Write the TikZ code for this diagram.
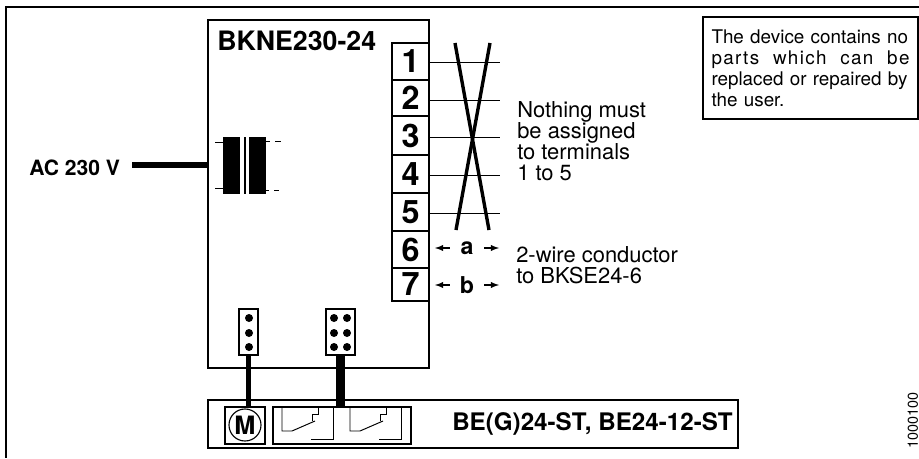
\documentclass[tikz,border=0pt]{standalone}
\usepackage{fontspec}
\setmainfont{TeX Gyre Heros}
\usetikzlibrary{arrows}
\tikzset{
	device/.style={draw, line width=1.4pt, inner sep=0pt},
	terminal/.style={draw, line width=1pt, inner sep=0pt, minimum width=0.925cm, font=\fontsize{23}{23}\selectfont\bfseries},
	pinblock/.style={draw, line width=1.2pt, inner sep=0pt, minimum height=1.15cm},
	unit/.style={draw, line width=0.8pt, inner sep=0pt, minimum height=0.925cm},
	wire/.style={line width=0.7pt},
	cross/.style={line width=2.4pt},
	cable/.style={line width=3.8pt},
	coil/.style={fill=black, line width=0pt, inner sep=0pt, minimum height=1.425cm},
	dimarrow/.style={-latex, line width=1pt},
	dimlabel/.style={inner sep=0pt, minimum width=0.85cm, font=\fontsize{16.5}{16.5}\selectfont\bfseries},
	label/.style={inner sep=0pt, align=left, anchor=north west, font=\fontsize{15.6}{15}\selectfont},
	title/.style={inner sep=0pt, anchor=west, font=\fontsize{17.2}{17.2}\selectfont\bfseries}
}
\begin{document}
\begin{tikzpicture}
	\useasboundingbox (0,0) rectangle (22.975,11.45);

	% Рамка
	\draw[line width=1.3pt] (22.975,11.275) -- (0.15,11.275) -- (0.15,0);

	% Устройство
	\node[device, minimum width=5.525cm, minimum height=8.7cm] (dev) at (7.9625,6.6) {};
	\node[title, font=\fontsize{19}{19}\selectfont\bfseries] (devname) at (5.425,10.425) {BKNE230-24};

	% Клеммы
	\node[terminal, minimum height=0.925cm] (t1) at (10.2625,9.9125) {1};
	\node[terminal, minimum height=0.9cm] (t2) at (10.2625,9) {2};
	\node[terminal, minimum height=0.975cm] (t3) at (10.2625,8.0625) {3};
	\node[terminal, minimum height=0.95cm] (t4) at (10.2625,7.1) {4};
	\node[terminal, minimum height=0.95cm] (t5) at (10.2625,6.15) {5};
	\node[terminal, minimum height=0.925cm] (t6) at (10.2625,5.2125) {6};
	\node[terminal, minimum height=0.825cm] (t7) at (10.2625,4.3375) {7};

	\coordinate (w1) at (12.5,9.9);
	\coordinate (w2) at (12.5,8.95);
	\coordinate (w3) at (12.5,8.025);
	\coordinate (w4) at (12.5,7.075);
	\coordinate (w5) at (12.5,6.125);
	\draw[wire] (t1.east |- w1) -- (w1);
	\draw[wire] (t2.east |- w2) -- (w2);
	\draw[wire] (t3.east |- w3) -- (w3);
	\draw[wire] (t4.east |- w4) -- (w4);
	\draw[wire] (t5.east |- w5) -- (w5);

	% Крест
	\coordinate (xa) at (11.375,10.375);
	\coordinate (xb) at (12.225,5.7);
	\coordinate (xc) at (12.25,10.375);
	\coordinate (xd) at (11.4,5.7);
	\draw[cross] (xa) -- (xb);
	\draw[cross] (xc) -- (xd);

	% Размеры a, b
	\node[dimlabel] (a) at (11.675,5.25) {a};
	\node[dimlabel] (b) at (11.675,4.325) {b};
	\coordinate (al) at (10.875,5.25);
	\coordinate (ar) at (12.475,5.25);
	\coordinate (bl) at (10.875,4.325);
	\coordinate (br) at (12.475,4.325);
	\draw[dimarrow] (a) -- (al);
	\draw[dimarrow] (a) -- (ar);
	\draw[dimarrow] (b) -- (bl);
	\draw[dimarrow] (b) -- (br);

	% Подписи
	\node[label] (nothing) at (12.925,8.925) {Nothing must\\be assigned\\to terminals\\1 to 5};
	\node[label] (conductor) at (12.9,5.3) {2-wire conductor\\to BKSE24-6};
	\node[draw, line width=1pt, text width=4.95cm, inner xsep=0.2125cm, inner ysep=0pt, minimum height=2.55cm, align=left, font=\fontsize{13.4}{15}\selectfont] (note) at (20.2625,9.75)
		{The device contains no\\\makebox[4.95cm][l]{\addfontfeature{LetterSpace=7}parts\hfill which\hfill can\hfill be}\\replaced or repaired by\\the user.};

	% Трансформатор
	\node[title, font=\fontsize{15}{15}\selectfont\bfseries] (ac) at (0.725,7.25) {AC 230 V};
	\coordinate (acend) at (3.3,7.325);
	\draw[cable] (acend) -- (acend -| dev.west);
	\node[coil, minimum width=0.425cm] (core1) at (5.7875,7.3125) {};
	\node[coil, minimum width=0.0625cm] (core2) at (6.1187,7.3125) {};
	\node[coil, minimum width=0.425cm] (core3) at (6.4375,7.3125) {};
	\draw[wire] (5.375,7.9) -- (5.575,7.9);
	\draw[wire] (5.375,6.75) -- (5.575,6.75);
	\draw[wire] (6.65,7.925) -- (6.75,7.925);
	\draw[wire] (6.875,7.925) -- (7.025,7.925);
	\draw[wire] (6.65,6.7) -- (6.725,6.7);
	\draw[wire] (6.85,6.7) -- (6.975,6.7);

	% Разъёмы
	\node[pinblock, minimum width=0.475cm] (pa) at (6.2125,3.15) {};
	\fill (6.225,3.5) circle (0.1);
	\fill (6.225,3.125) circle (0.1);
	\fill (6.225,2.775) circle (0.1);
	\node[pinblock, minimum width=0.725cm] (pb) at (8.5125,3.15) {};
	\fill (8.35,3.5) circle (0.1);
	\fill (8.675,3.5) circle (0.1);
	\fill (8.35,3.125) circle (0.1);
	\fill (8.675,3.125) circle (0.1);
	\fill (8.35,2.775) circle (0.1);
	\fill (8.675,2.775) circle (0.1);

	% Привод
	\node[device, line width=1.8pt, minimum width=13.25cm, minimum height=1.2cm] (be) at (11.825,0.85) {};
	\node[title] (bename) at (11.3,0.85) {BE(G)24-ST, BE24-12-ST};
	\node[unit, minimum width=1cm] (mbox) at (6.125,0.8125) {};
	\node[draw, circle, line width=0.8pt, inner sep=0pt, minimum size=0.8cm, font=\fontsize{18}{18}\selectfont\bfseries] (mot) at (6.125,0.825) {M};
	\node[unit, minimum width=3.45cm] (swbox) at (8.55,0.8125) {};
	\draw[cable] (pa.south) -- (pa.south |- mbox.north);
	\draw[cable, line width=6.7pt] (pb.south) -- (pb.south |- swbox.north);

	% Контакты
	\draw[wire] (7.05,1.275) -- (7.05,0.675) -- (7.3,0.675) -- (7.875,0.925);
	\draw[wire] (7.8,0.925) -- (7.8,1.1) -- (7.95,1.1) -- (7.95,1.275);
	\draw[wire] (7.775,0.475) -- (8.325,0.475) -- (8.325,1.275);
	\draw[wire] (8.75,1.275) -- (8.75,0.675) -- (9,0.675) -- (9.575,0.925);
	\draw[wire] (9.5,0.925) -- (9.5,1.1) -- (9.65,1.1) -- (9.65,1.275);
	\draw[wire] (9.475,0.475) -- (10.025,0.475) -- (10.025,1.275);

	% Номер рисунка
	\node[rotate=90, inner sep=0pt, anchor=west, font=\fontsize{10.2}{10.2}\selectfont] (code) at (22.825,0.225) {1000100};
\end{tikzpicture}
\end{document}
